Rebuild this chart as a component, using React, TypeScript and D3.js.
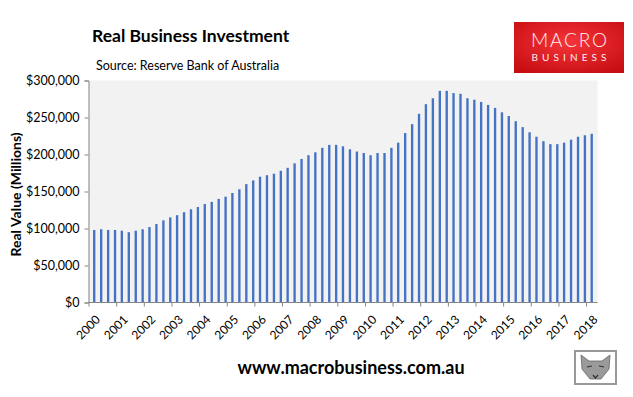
import React, { useRef, useEffect } from "react";
import * as d3 from "d3";

// quarterly real business investment, $m (Mar 2000 .. Mar 2018)
const investment = [
  98, 99, 98, 98, 97, 95, 97, 99, 102, 106, 111, 115, 118, 122, 126, 129,
  133, 136, 140, 143, 148, 153, 160, 165, 170, 172, 174, 178, 182, 188, 194, 199,
  203, 209, 213, 213, 211, 207, 204, 202, 199, 202, 202, 209, 216, 229, 241, 255,
  268, 276, 286, 286, 283, 282, 276, 274, 271, 267, 263, 257, 252, 245, 237, 230,
  224, 218, 214, 214, 216, 220, 224, 226, 228,
].map((v) => v * 1000);

const yTicks = [0, 50000, 100000, 150000, 200000, 250000, 300000];
const years = d3.range(2000, 2019);

const title = "Real Business Investment";
const source = "Source: Reserve Bank of Australia";
const yTitle = "Real Value (Millions)";
const site = "www.macrobusiness.com.au";

const W = 633;
const H = 397;
const plot = { left: 88.5, right: 597.5, top: 80.5, bottom: 302.5 };
const font = "Lato, 'Open Sans', sans-serif";

const App = () => {
  const svgRef = useRef(null);

  useEffect(() => {
    draw();
  }, []);

  const draw = () => {
    const svg = d3.select(svgRef.current);
    svgRef.current.querySelectorAll("*").forEach((n) => n.remove());

    // first point is March 2000, one bar a quarter
    const dates = investment.map((_, i) => new Date(2000, 2 + i * 3, 1));

    const xScale = d3
      .scaleTime()
      .domain([new Date(2000, 0, 1), new Date(2018, 5, 1)])
      .range([plot.left, plot.right]);
    const yScale = d3
      .scaleLinear()
      .domain([0, 300000])
      .range([plot.bottom, plot.top]);

    // plot area
    svg
      .append("rect")
      .attr("x", plot.left)
      .attr("y", plot.top)
      .attr("width", plot.right - plot.left)
      .attr("height", plot.bottom - plot.top)
      .attr("fill", "#f2f2f2");

    // bars, one month wide, centred in their month
    const monthW = xScale(new Date(2000, 1, 1)) - xScale(new Date(2000, 0, 1));
    svg
      .append("g")
      .selectAll("rect")
      .data(investment)
      .join("rect")
      .attr("x", (_, i) => xScale(dates[i]))
      .attr("y", (d) => yScale(d))
      .attr("width", monthW)
      .attr("height", (d) => plot.bottom - yScale(d))
      .attr("fill", "#4472c4");

    // y axis
    const yAxis = d3
      .axisLeft(yScale)
      .tickValues(yTicks)
      .tickSize(4)
      .tickPadding(5)
      .tickFormat((d) => "$" + d3.format(",")(d));
    const gy = svg
      .append("g")
      .attr("transform", `translate(${plot.left}, 0)`)
      .call(yAxis);
    gy.selectAll("line, path").attr("stroke", "#868686");
    gy.selectAll("text")
      .attr("font-family", font)
      .attr("font-size", 12.5)
      .attr("fill", "#000");

    // x axis
    const xAxis = d3
      .axisBottom(xScale)
      .tickValues(years.map((y) => new Date(y, 0, 1)))
      .tickSize(4)
      .tickFormat(d3.timeFormat("%Y"));
    const gx = svg
      .append("g")
      .attr("transform", `translate(0, ${plot.bottom})`)
      .call(xAxis);
    gx.select(".domain").attr("d", `M${plot.left},0H${plot.right}`);
    gx.selectAll("line, path").attr("stroke", "#868686");
    gx.selectAll("text")
      .attr("font-family", font)
      .attr("font-size", 12)
      .attr("fill", "#000")
      .attr("text-anchor", "end")
      .attr("dy", "0")
      .attr("transform", "translate(7, 13) rotate(-45)");

    // y title
    svg
      .append("text")
      .attr("transform", `translate(21, ${(plot.top + plot.bottom) / 2 + 3}) rotate(-90)`)
      .attr("text-anchor", "middle")
      .attr("font-family", font)
      .attr("font-weight", "bold")
      .attr("font-size", 14)
      .text(yTitle);

    // titles
    svg
      .append("text")
      .attr("x", 92)
      .attr("y", 42)
      .attr("font-family", font)
      .attr("font-weight", "bold")
      .attr("font-size", 17.5)
      .text(title);
    svg
      .append("text")
      .attr("x", 96)
      .attr("y", 70)
      .attr("font-family", font)
      .attr("font-size", 12.5)
      .text(source);

    svg
      .append("text")
      .attr("x", 351)
      .attr("y", 374)
      .attr("text-anchor", "middle")
      .attr("font-family", font)
      .attr("font-weight", "bold")
      .attr("font-size", 18)
      .text(site);

    // logo
    const defs = svg.append("defs");
    const grad = defs
      .append("radialGradient")
      .attr("id", "logoGrad")
      .attr("cx", "50%")
      .attr("cy", "40%")
      .attr("r", "70%");
    grad.append("stop").attr("offset", "0%").attr("stop-color", "#f5353a");
    grad.append("stop").attr("offset", "100%").attr("stop-color", "#c70d12");
    const logo = svg.append("g").attr("transform", "translate(514, 22)");
    logo
      .append("rect")
      .attr("width", 110)
      .attr("height", 51)
      .attr("fill", "url(#logoGrad)");
    logo
      .append("text")
      .attr("x", 55)
      .attr("y", 25)
      .attr("text-anchor", "middle")
      .attr("font-family", "Lato, sans-serif")
      .attr("font-weight", 300)
      .attr("font-size", 19)
      .attr("fill", "#fdf0f0")
      .attr("textLength", 76)
      .text("MACRO");
    logo
      .append("text")
      .attr("x", 55)
      .attr("y", 38.5)
      .attr("text-anchor", "middle")
      .attr("font-family", "Lato, sans-serif")
      .attr("font-size", 10)
      .attr("fill", "#fdf0f0")
      .attr("textLength", 75)
      .text("BUSINESS");

    // fox badge
    const fox = svg.append("g").attr("transform", "translate(575, 351)");
    fox
      .append("rect")
      .attr("width", 41)
      .attr("height", 33)
      .attr("fill", "#fff")
      .attr("stroke", "#999")
      .attr("stroke-width", 2);
    fox
      .append("path")
      .attr("d", "M6,4 L14,10 L27,10 L35,4 L34,18 L26,28 L15,28 L7,18 Z")
      .attr("fill", "#9a9a9a")
      .attr("stroke", "#666")
      .attr("stroke-width", 0.8);
    fox
      .append("path")
      .attr("d", "M12,16 L17,15 M24,15 L29,16 M18,24 L20.5,27 L23,24")
      .attr("stroke", "#333")
      .attr("stroke-width", 1.2)
      .attr("fill", "none");
  };

  return (
    <svg
      ref={svgRef}
      width={W}
      height={H}
      style={{ position: "absolute", left: 0, top: 0, background: "#fff" }}
    />
  );
};

export default App;
